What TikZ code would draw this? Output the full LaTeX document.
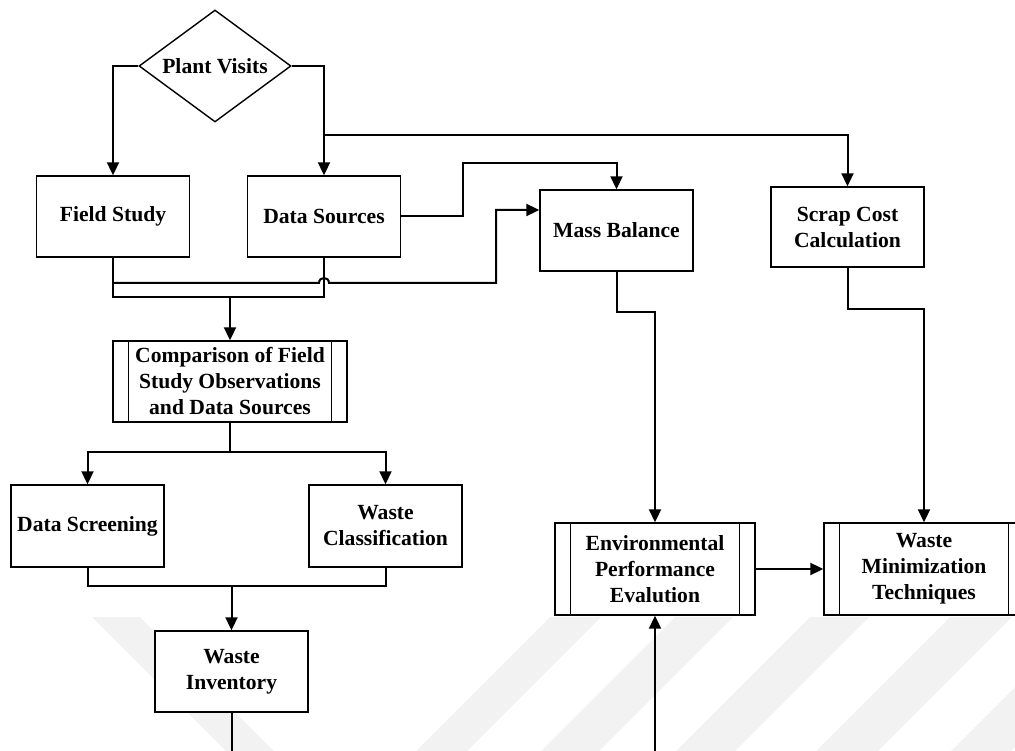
\documentclass[tikz,border=0pt]{standalone}
\usepackage{fontspec}
\setmainfont{Liberation Serif}
\usetikzlibrary{shapes.geometric,arrows.meta}
\begin{document}
\begin{tikzpicture}[x=1pt,y=-1pt,
  every node/.style={font=\fontsize{21.6pt}{26pt}\selectfont\bfseries, align=center, inner sep=0pt},
  box/.style={draw, rectangle, line width=1.4pt, fill=white, minimum width=153pt, minimum height=81pt},
  procbox/.style={box, path picture={
      \draw[line width=1.4pt]
        ([xshift=15.5pt]path picture bounding box.north west) -- ([xshift=15.5pt]path picture bounding box.south west)
        ([xshift=-15.5pt]path picture bounding box.north east) -- ([xshift=-15.5pt]path picture bounding box.south east);}},
  decision/.style={diamond, draw, line width=1.4pt, fill=white, aspect=1.357, minimum width=152pt, minimum height=112pt},
  line/.style={line width=2pt},
  conn/.style={line, -{Triangle[length=13pt,width=12pt]}},
  wmark/.style={fill=black!5}
]
\useasboundingbox (0,0) rectangle (1015,751);
\clip (0,0) rectangle (1015,751);

% faint background stripes
\fill[wmark] (92,617) -- (140,617) -- (274,751) -- (226,751) -- cycle;
\foreach \a/\b in {550/601, 675/733, 810/869, 950/1012, 1085/1145}
  \fill[wmark] (\a,617) -- (\b,617) -- (\b-134,751) -- (\a-134,751) -- cycle;

% nodes
\node[decision] (pv) at (215,66) {Plant Visits};
\node[box] (fs) at (113,216.5) {Field Study};
\node[box] (ds) at (324,216.5) {Data Sources};
\node[box] (mb) at (616.5,230.5) {Mass Balance};
\node[box, minimum height=80pt] (sc) at (847.5,227) {Scrap Cost\\Calculation};
\node[procbox, minimum width=234pt] (cmp) at (230,381.5) {Comparison of Field\\Study Observations\\and Data Sources};
\node[box, minimum height=82pt] (dsc) at (87.5,526) {Data Screening};
\node[box, minimum height=82pt] (wc) at (385.5,526) {Waste\\Classification};
\node[box] (wi) at (231.5,671.5) {Waste\\Inventory};
\node[procbox, minimum width=200pt, minimum height=92pt] (env) at (655,569) {Environmental\\Performance\\Evalution};
\node[procbox, minimum width=200pt, minimum height=92pt] (wm) at (924,569) {Waste\\Minimization\\Techniques};

% junction points
\coordinate (dsr) at (463,163);
\coordinate (fj) at (113,283);
\coordinate (fr) at (496,210);
\coordinate (m1) at (113,297);
\coordinate (m2) at (324,297);
\coordinate (split) at (230,452);
\coordinate (merge) at (231.5,586);
\coordinate (wiout) at (231.5,751);
\coordinate (envin) at (655,751);

% connectors
\draw[conn] (pv.west) -| (fs.north);
\draw[conn] (pv.east) -| (ds.north);
\draw[conn] ([yshift=40pt]ds.north) -| (sc.north);
\draw[conn] (ds.east) -| (dsr) -| (mb.north);

\draw[line] (fs.south) -- (m1) -- (m2) -- (ds.south);
\draw[conn] (fj) -- (319,283) .. controls (319,276.3) and (329,276.3) .. (329,283)
  -- (fr |- fj) -- (fr) -- (fr -| mb.west);
\draw[conn] (cmp.north |- m1) -- (cmp.north);

\draw[line] (cmp.south) -- (split);
\draw[conn] (split) -| (dsc.north);
\draw[conn] (split) -| (wc.north);
\draw[line] (dsc.south) |- (merge) -| (wc.south);
\draw[conn] (merge) -- (wi.north);
\draw[line] (wi.south) -- (wiout);

\draw[conn] (mb.south) -- ++(0,40.5) -| (env.north);
\draw[conn] (sc.south) -- ++(0,41) -| (wm.north);
\draw[conn] (env.east) -- (wm.west);
\draw[conn] (envin) -- (env.south);
\end{tikzpicture}
\end{document}
